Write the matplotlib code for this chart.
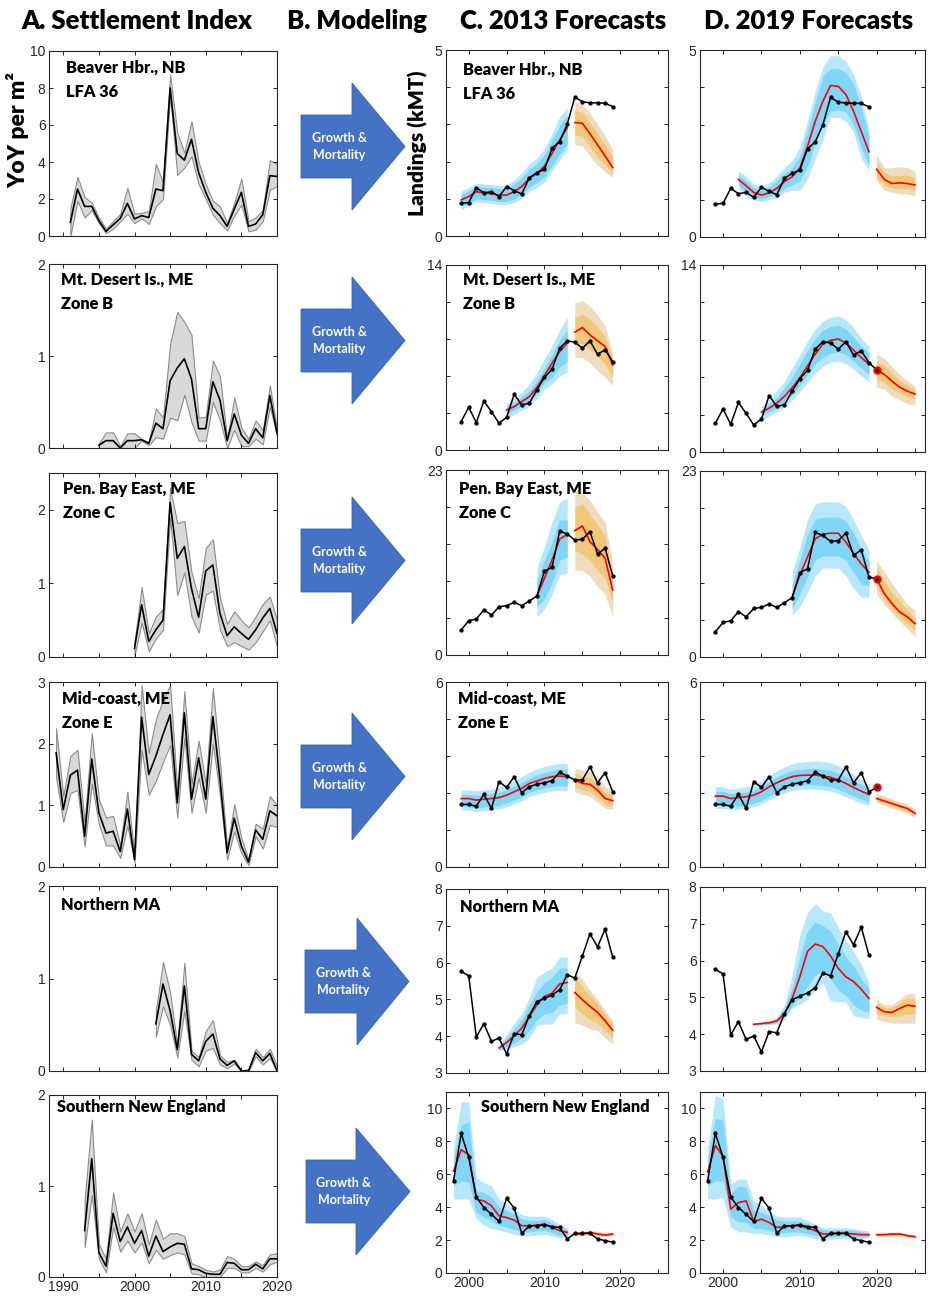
import matplotlib
matplotlib.use('Agg')
import matplotlib.pyplot as plt
import numpy as np
from matplotlib.patches import Polygon

plt.rcParams['font.family'] = ['Liberation Sans', 'DejaVu Sans']

#%% settlement index (column A): start year, mean, lower, upper
sett_bh_yr0 = 1991
sett_bh = [0.74, 2.54, 1.6, 1.6, 0.83, 0.25, 0.6, 0.95, 1.76, 0.92, 1.1, 1.0, 2.54, 2.45, 8.0,
           4.46, 4.1, 5.23, 3.43, 2.36, 1.5, 1.1, 0.52, 1.46, 2.36, 0.52, 0.65, 1.15, 3.26, 3.22]
sett_bh_hi = [1.5, 3.2, 2.1, 1.8, 1.0, 0.4, 0.8, 1.2, 2.6, 1.2, 1.25, 1.35, 3.9, 2.9, 8.7,
              5.6, 4.5, 6.2, 4.0, 2.8, 1.9, 1.6, 0.7, 1.8, 3.1, 0.8, 1.0, 1.4, 4.1, 3.9]
sett_bh_lo = [0.0, 1.9, 1.0, 1.4, 0.7, 0.15, 0.4, 0.8, 1.2, 0.7, 0.95, 0.65, 1.6, 2.0, 7.6,
              3.3, 3.7, 4.3, 2.8, 2.0, 1.15, 0.7, 0.3, 1.1, 1.7, 0.25, 0.35, 0.8, 2.5, 2.7]

sett_mdi_yr0 = 1995
sett_mdi = [0.03, 0.08, 0.08, 0.0, 0.08, 0.08, 0.09, 0.05, 0.27, 0.21, 0.73, 0.87, 0.97,
            0.75, 0.21, 0.21, 0.72, 0.52, 0.08, 0.37, 0.14, 0.05, 0.21, 0.11, 0.57, 0.16]
sett_mdi_hi = [0.05, 0.17, 0.17, 0.02, 0.16, 0.16, 0.1, 0.06, 0.43, 0.33, 1.13, 1.48, 1.37,
               1.23, 0.33, 0.34, 0.95, 0.78, 0.1, 0.55, 0.22, 0.1, 0.3, 0.19, 0.68, 0.2]
sett_mdi_lo = [0.0, 0.0, 0.0, 0.0, 0.0, 0.0, 0.08, 0.03, 0.12, 0.1, 0.33, 0.3, 0.58,
               0.28, 0.08, 0.08, 0.5, 0.3, 0.0, 0.2, 0.02, 0.02, 0.1, 0.04, 0.45, 0.13]

sett_pbe_yr0 = 2000
sett_pbe = [0.12, 0.71, 0.21, 0.37, 0.5, 2.1, 1.34, 1.5, 0.93, 0.54, 1.17, 1.25, 0.59, 0.29,
            0.41, 0.32, 0.24, 0.37, 0.53, 0.66, 0.32]
sett_pbe_hi = [0.2, 0.95, 0.32, 0.55, 0.65, 2.3, 1.82, 1.85, 1.15, 0.8, 1.48, 1.6, 0.8, 0.45,
               0.62, 0.5, 0.4, 0.55, 0.72, 0.82, 0.5]
sett_pbe_lo = [0.02, 0.47, 0.08, 0.25, 0.37, 1.9, 0.84, 1.15, 0.55, 0.33, 0.85, 0.9, 0.37, 0.15,
               0.2, 0.15, 0.1, 0.2, 0.35, 0.5, 0.14]

sett_mc_yr0 = 1989
sett_mc = [1.85, 0.93, 1.49, 1.57, 0.5, 1.75, 0.88, 0.55, 0.58, 0.25, 0.94, 0.12, 2.43, 1.5, 1.8, 2.15,
           2.47, 1.04, 2.5, 1.1, 1.77, 1.1, 2.44, 1.42, 0.23, 0.79, 0.34, 0.08, 0.6, 0.45, 0.91, 0.83]
sett_mc_hi = [2.25, 1.15, 1.8, 1.9, 0.72, 2.17, 1.1, 0.8, 0.83, 0.35, 1.22, 0.18, 2.95, 1.85, 2.4, 2.7,
              2.95, 1.25, 2.85, 1.35, 2.05, 1.35, 2.9, 1.7, 0.32, 1.02, 0.47, 0.12, 0.7, 0.62, 1.15, 1.0]
sett_mc_lo = [1.45, 0.73, 1.2, 1.25, 0.33, 1.35, 0.7, 0.35, 0.35, 0.15, 0.67, 0.08, 1.9, 1.17, 1.4, 1.7,
              1.98, 0.8, 2.1, 0.88, 1.45, 0.88, 2.0, 1.15, 0.12, 0.58, 0.22, 0.03, 0.5, 0.3, 0.68, 0.65]

sett_nma_yr0 = 2003
sett_nma = [0.51, 0.94, 0.65, 0.23, 0.92, 0.18, 0.11, 0.32, 0.4, 0.13, 0.06, 0.11, 0.0, 0.0,
            0.2, 0.11, 0.19, 0.0]
sett_nma_hi = [0.65, 1.18, 0.85, 0.28, 1.17, 0.22, 0.15, 0.43, 0.55, 0.17, 0.1, 0.12, 0.01, 0.02,
               0.24, 0.15, 0.24, 0.05]
sett_nma_lo = [0.37, 0.7, 0.5, 0.15, 0.65, 0.12, 0.05, 0.22, 0.25, 0.07, 0.03, 0.08, 0.0, 0.0,
               0.16, 0.07, 0.14, 0.0]

sett_sne_yr0 = 1993
sett_sne = [0.51, 1.3, 0.27, 0.12, 0.7, 0.39, 0.55, 0.37, 0.51, 0.23, 0.45, 0.28, 0.33, 0.37,
            0.36, 0.09, 0.08, 0.04, 0.03, 0.03, 0.16, 0.15, 0.08, 0.08, 0.14, 0.09, 0.2, 0.2]
sett_sne_hi = [0.85, 1.73, 0.36, 0.2, 0.93, 0.5, 0.7, 0.5, 0.7, 0.36, 0.63, 0.42, 0.48, 0.48,
               0.45, 0.15, 0.12, 0.08, 0.06, 0.08, 0.23, 0.2, 0.12, 0.12, 0.17, 0.13, 0.25, 0.26]
sett_sne_lo = [0.33, 0.9, 0.2, 0.05, 0.55, 0.28, 0.4, 0.27, 0.38, 0.15, 0.3, 0.2, 0.24, 0.27,
               0.25, 0.04, 0.03, 0.0, 0.0, 0.0, 0.1, 0.1, 0.05, 0.05, 0.1, 0.06, 0.14, 0.17]

#%% observed landings (kMT), 2020 value shown as red dot in D
obs_bh = [0.88, 0.9, 1.3, 1.16, 1.19, 1.06, 1.33, 1.22, 1.13, 1.57, 1.7, 1.79, 2.36, 2.54, 3.0,
          3.73, 3.61, 3.58, 3.58, 3.57, 3.48]
obs_mdi = [2.15, 3.23, 2.07, 3.71, 2.9, 2.02, 2.47, 4.22, 3.41, 3.54, 4.55, 5.5, 6.11, 7.7, 8.26,
           8.16, 7.7, 8.26, 7.25, 7.58, 6.69]
obs_pbe = [3.11, 4.27, 4.48, 5.6, 4.97, 6.0, 6.13, 6.55, 6.13, 6.71, 7.34, 10.44, 10.9, 15.4, 15.04,
           14.3, 14.38, 15.33, 12.56, 13.26, 9.86]
obs_mc = [2.03, 2.03, 1.97, 2.36, 1.9, 2.77, 2.58, 2.93, 2.41, 2.6, 2.69, 2.73, 2.8, 3.07, 2.95,
          2.82, 2.82, 3.25, 2.73, 3.06, 2.44]
obs_nma = [5.76, 5.64, 3.98, 4.34, 3.86, 3.95, 3.52, 4.07, 4.04, 4.56, 4.94, 5.03, 5.12, 5.26, 5.67,
           5.58, 6.18, 6.78, 6.43, 6.91, 6.15]
obs_sne = [5.62, 8.49, 7.03, 4.62, 3.98, 3.57, 3.13, 4.54, 3.94, 2.41, 2.87, 2.87, 2.93, 2.81, 2.77,
           2.07, 2.41, 2.41, 2.41, 2.07, 1.97, 1.87]
obs2020_mdi = 6.14
obs2020_pbe = 9.69
obs2020_mc = 2.58

#%% model fits / forecasts: rows = [median, outer lo, inner lo, inner hi, outer hi] per year
bh_fit13 = [[0.97, 0.72, 0.80, 1.12, 1.20], [1.06, 0.80, 0.88, 1.22, 1.30], [1.19, 0.92, 1.00, 1.33, 1.42],
            [1.16, 0.90, 0.98, 1.32, 1.40], [1.13, 0.88, 0.96, 1.30, 1.38], [1.10, 0.85, 0.93, 1.27, 1.36],
            [1.10, 0.84, 0.93, 1.28, 1.37], [1.19, 0.90, 1.00, 1.40, 1.50], [1.33, 1.00, 1.12, 1.56, 1.70],
            [1.55, 1.20, 1.32, 1.80, 1.95], [1.68, 1.30, 1.43, 1.95, 2.10], [1.88, 1.45, 1.60, 2.18, 2.35],
            [2.22, 1.75, 1.90, 2.57, 2.75], [2.58, 2.05, 2.20, 2.97, 3.20], [2.91, 2.30, 2.47, 3.25, 3.45]]
bh_fc13 = [[3.05, 2.45, 2.72, 3.38, 3.60], [3.03, 2.42, 2.68, 3.33, 3.55], [2.75, 2.15, 2.40, 3.05, 3.30],
           [2.45, 1.90, 2.12, 2.75, 3.00], [2.15, 1.72, 1.90, 2.45, 2.70], [1.84, 1.58, 1.68, 2.13, 2.31]]
bh_fit19 = [[1.54, 1.30, 1.40, 1.68, 1.78], [1.37, 1.10, 1.20, 1.50, 1.62], [1.19, 0.98, 1.05, 1.32, 1.42],
            [1.12, 0.95, 1.02, 1.25, 1.35], [1.18, 1.00, 1.08, 1.34, 1.45], [1.30, 1.05, 1.15, 1.50, 1.62],
            [1.48, 1.20, 1.30, 1.70, 1.85], [1.61, 1.25, 1.40, 1.85, 2.05], [1.84, 1.25, 1.50, 2.15, 2.40],
            [2.42, 1.55, 1.90, 2.85, 3.10], [3.09, 2.10, 2.50, 3.60, 3.90], [3.63, 2.60, 3.00, 4.30, 4.55],
            [4.05, 3.20, 3.36, 4.50, 4.85], [4.03, 3.20, 3.40, 4.50, 4.85], [3.81, 3.10, 3.35, 4.40, 4.70],
            [3.36, 2.80, 3.00, 4.10, 4.35], [2.82, 2.10, 2.40, 3.45, 3.75], [2.28, 1.79, 1.91, 2.69, 2.87]]
bh_fc19 = [[1.81, 1.50, 1.60, 2.00, 2.20], [1.54, 1.25, 1.37, 1.72, 1.85], [1.43, 1.20, 1.30, 1.63, 1.85],
           [1.45, 1.15, 1.30, 1.65, 1.88], [1.43, 1.15, 1.30, 1.65, 1.85], [1.39, 1.10, 1.25, 1.60, 1.75]]

mdi_fit13 = [[3.03, 2.40, 2.70, 3.30, 3.50], [3.28, 2.70, 3.00, 3.60, 3.90], [3.66, 3.00, 3.30, 4.00, 4.40],
             [4.04, 3.30, 3.65, 4.50, 5.00], [4.75, 3.90, 4.30, 5.30, 5.90], [5.63, 4.60, 5.10, 6.20, 6.90],
             [6.57, 5.00, 5.50, 7.20, 7.90], [7.45, 5.60, 6.30, 8.30, 9.10], [8.08, 5.90, 6.70, 9.10, 10.05]]
mdi_fc13 = [[8.92, 7.00, 8.00, 10.00, 11.16], [9.27, 7.00, 8.10, 10.30, 11.30], [8.71, 6.60, 7.60, 9.90, 10.90],
            [8.26, 6.00, 7.10, 9.30, 10.20], [7.83, 5.50, 6.50, 8.60, 9.40], [6.44, 4.90, 5.50, 6.90, 7.30]]
mdi_fit19 = [[2.98, 2.40, 2.70, 3.20, 3.40], [3.28, 2.70, 3.00, 3.60, 3.90], [3.66, 3.00, 3.30, 4.10, 4.60],
             [4.17, 3.40, 3.80, 4.80, 5.30], [4.80, 3.90, 4.30, 5.60, 6.30], [5.56, 4.50, 5.00, 6.60, 7.30],
             [6.44, 5.20, 5.80, 7.60, 8.30], [7.32, 5.90, 6.60, 8.50, 9.20], [8.08, 6.40, 7.10, 9.10, 9.80],
             [8.36, 6.70, 7.40, 9.40, 10.10], [8.46, 6.80, 7.50, 9.50, 10.20], [8.16, 6.60, 7.30, 9.20, 9.90],
             [7.63, 6.20, 6.80, 8.60, 9.30], [7.07, 5.70, 6.30, 7.90, 8.50], [6.57, 5.25, 5.80, 7.45, 7.90]]
mdi_fc19 = [[6.14, 4.87, 5.50, 6.80, 7.33], [5.81, 4.70, 5.20, 6.50, 7.00], [5.30, 4.20, 4.70, 5.90, 6.40],
            [4.85, 3.90, 4.40, 5.35, 5.80], [4.55, 3.60, 4.10, 5.00, 5.30], [4.34, 3.50, 3.95, 4.70, 4.95]]

pbe_fit13 = [[7.34, 4.77, 6.00, 9.30, 10.77], [9.53, 5.70, 7.00, 11.80, 13.50], [11.80, 7.50, 9.00, 14.00, 16.50],
             [14.40, 10.00, 11.80, 16.80, 19.00], [15.00, 10.15, 12.20, 16.80, 19.50]]
pbe_fc13 = [[15.46, 10.57, 13.05, 18.40, 20.50], [16.04, 10.50, 12.50, 18.80, 20.10],
            [14.09, 9.80, 11.80, 17.50, 19.20], [13.14, 8.50, 10.50, 16.20, 17.80],
            [12.02, 7.50, 9.50, 14.80, 16.50], [8.08, 4.77, 6.50, 10.00, 11.50]]
pbe_fit19 = [[7.42, 5.15, 6.00, 9.00, 10.50], [10.10, 6.20, 7.80, 12.00, 13.50], [12.37, 8.00, 10.00, 15.20, 17.00],
             [14.60, 10.00, 12.00, 17.00, 18.90], [15.20, 11.00, 12.50, 17.30, 19.20], [15.30, 11.00, 12.50, 17.30, 19.20],
             [15.30, 11.00, 12.50, 17.30, 19.20], [14.20, 10.00, 12.00, 16.80, 18.60], [12.80, 8.50, 10.50, 15.30, 17.00],
             [11.50, 7.40, 9.00, 13.30, 15.00], [10.50, 7.40, 8.80, 11.80, 13.30]]
pbe_fc19 = [[9.69, 7.80, 8.70, 11.00, 11.95], [7.83, 6.50, 7.10, 9.50, 10.50], [6.60, 5.40, 5.90, 8.00, 9.10],
            [5.56, 4.40, 4.90, 6.90, 7.80], [4.95, 3.50, 4.10, 5.80, 6.50], [4.12, 2.47, 3.30, 4.80, 5.77]]

mc_fit13 = [[2.22, 1.85, 1.96, 2.36, 2.50], [2.22, 1.84, 1.95, 2.35, 2.50], [2.17, 1.80, 1.92, 2.33, 2.47],
            [2.20, 1.82, 1.94, 2.36, 2.50], [2.22, 1.85, 1.97, 2.38, 2.53], [2.25, 1.88, 2.00, 2.42, 2.58],
            [2.33, 1.95, 2.08, 2.50, 2.68], [2.44, 2.05, 2.18, 2.62, 2.80], [2.55, 2.15, 2.28, 2.74, 2.93],
            [2.71, 2.28, 2.42, 2.88, 3.08], [2.79, 2.36, 2.50, 2.98, 3.18], [2.87, 2.42, 2.57, 3.06, 3.26],
            [2.93, 2.47, 2.62, 3.12, 3.32], [2.95, 2.48, 2.64, 3.17, 3.36], [2.93, 2.47, 2.63, 3.18, 3.36]]
mc_fc13 = [[2.82, 2.44, 2.60, 3.05, 3.20], [2.71, 2.35, 2.50, 2.95, 3.15], [2.68, 2.30, 2.45, 2.90, 3.10],
           [2.49, 2.10, 2.25, 2.70, 2.95], [2.22, 1.90, 2.02, 2.42, 2.60], [2.15, 1.88, 1.98, 2.35, 2.50]]
mc_fit19 = [[2.30, 1.90, 2.00, 2.45, 2.60], [2.30, 1.90, 2.00, 2.45, 2.60], [2.22, 1.85, 1.95, 2.38, 2.52],
            [2.25, 1.87, 1.98, 2.40, 2.55], [2.28, 1.90, 2.00, 2.44, 2.60], [2.33, 1.95, 2.06, 2.50, 2.67],
            [2.44, 2.05, 2.16, 2.62, 2.80], [2.60, 2.18, 2.30, 2.78, 2.97], [2.73, 2.30, 2.43, 2.92, 3.12],
            [2.84, 2.40, 2.53, 3.04, 3.25], [2.93, 2.48, 2.62, 3.13, 3.35], [2.97, 2.52, 2.66, 3.17, 3.40],
            [2.98, 2.53, 2.67, 3.19, 3.42], [2.98, 2.52, 2.66, 3.20, 3.44], [2.95, 2.50, 2.64, 3.17, 3.42],
            [2.91, 2.46, 2.60, 3.13, 3.38], [2.82, 2.38, 2.52, 3.04, 3.28], [2.71, 2.28, 2.42, 2.93, 3.16],
            [2.58, 2.18, 2.30, 2.80, 3.00], [2.46, 2.08, 2.20, 2.68, 2.85], [2.35, 2.00, 2.10, 2.55, 2.68]]
mc_fc19 = [[2.22, 2.08, 2.14, 2.30, 2.38], [2.14, 2.00, 2.06, 2.22, 2.30], [2.06, 1.91, 1.98, 2.14, 2.21],
           [1.97, 1.82, 1.89, 2.05, 2.12], [1.90, 1.74, 1.81, 1.98, 2.05], [1.74, 1.60, 1.66, 1.82, 1.88]]

nma_fit13 = [[3.68, 3.60, 3.64, 3.73, 3.78], [3.83, 3.65, 3.72, 3.95, 4.05], [4.01, 3.72, 3.82, 4.20, 4.35],
             [4.22, 3.78, 3.95, 4.45, 4.60], [4.54, 3.95, 4.15, 4.85, 5.05], [4.85, 4.30, 4.45, 5.20, 5.60],
             [5.08, 4.33, 4.60, 5.45, 5.75], [5.17, 4.33, 4.65, 5.60, 5.85], [5.42, 4.60, 4.85, 5.85, 6.15],
             [5.46, 4.62, 4.90, 5.85, 6.15]]
nma_fc13 = [[5.19, 4.37, 4.80, 5.60, 5.75], [4.99, 4.30, 4.60, 5.35, 5.55], [4.81, 4.20, 4.45, 5.10, 5.25],
            [4.65, 4.15, 4.35, 4.90, 5.00], [4.42, 3.95, 4.15, 4.60, 4.70], [4.16, 3.80, 3.98, 4.30, 4.42]]
nma_fit19 = [[4.27, 4.24, 4.25, 4.29, 4.30], [4.29, 4.25, 4.27, 4.32, 4.34], [4.31, 4.26, 4.28, 4.35, 4.38],
             [4.36, 4.28, 4.32, 4.42, 4.47], [4.56, 4.40, 4.47, 4.70, 4.80], [4.97, 4.70, 4.78, 5.25, 5.60],
             [5.56, 4.82, 5.00, 6.10, 6.70], [6.25, 4.95, 5.30, 6.80, 7.30], [6.45, 5.20, 5.60, 7.05, 7.55],
             [6.38, 5.40, 5.75, 6.95, 7.35], [6.13, 4.90, 5.50, 6.80, 7.30], [5.79, 4.88, 5.20, 6.45, 6.90],
             [5.56, 4.88, 5.05, 6.10, 6.55], [5.43, 4.50, 4.80, 5.85, 6.25], [5.22, 4.45, 4.65, 5.50, 5.90],
             [4.97, 4.43, 4.60, 5.25, 5.40]]
nma_fc19 = [[4.73, 4.40, 4.55, 4.85, 4.95], [4.61, 4.35, 4.50, 4.72, 4.80], [4.59, 4.30, 4.48, 4.72, 4.80],
            [4.70, 4.30, 4.50, 4.85, 4.95], [4.79, 4.30, 4.55, 4.98, 5.10], [4.76, 4.30, 4.55, 4.95, 5.10]]

sne_fit13 = [[6.18, 4.50, 5.30, 7.00, 7.60], [7.49, 4.50, 5.60, 9.00, 10.40], [7.19, 4.50, 5.50, 9.20, 10.40],
             [4.48, 3.30, 3.70, 5.00, 5.80], [4.38, 2.90, 3.40, 4.90, 5.50], [4.08, 2.70, 3.20, 4.60, 5.30],
             [3.47, 2.60, 2.90, 4.00, 4.50], [3.37, 2.50, 2.80, 3.80, 4.20], [3.21, 2.35, 2.65, 3.60, 3.90],
             [2.87, 2.25, 2.50, 3.30, 3.55], [2.87, 2.25, 2.50, 3.20, 3.45], [2.91, 2.30, 2.55, 3.20, 3.45],
             [2.97, 2.35, 2.60, 3.25, 3.45], [2.77, 2.25, 2.45, 3.05, 3.25], [2.57, 2.15, 2.30, 2.80, 2.95],
             [2.47, 2.20, 2.30, 2.65, 2.75]]
sne_fc13 = [[2.37, 2.22, 2.30, 2.44, 2.50], [2.37, 2.25, 2.31, 2.45, 2.52], [2.47, 2.32, 2.40, 2.55, 2.62],
            [2.37, 2.25, 2.31, 2.45, 2.52], [2.31, 2.20, 2.26, 2.38, 2.45], [2.37, 2.25, 2.30, 2.43, 2.50]]
sne_fit19 = [[6.14, 4.50, 5.30, 7.00, 7.60], [7.75, 4.50, 5.60, 9.40, 10.80], [7.09, 4.60, 5.60, 9.30, 10.60],
             [3.88, 2.80, 3.40, 4.80, 5.40], [4.28, 2.50, 3.10, 5.30, 5.70], [4.38, 2.50, 3.10, 5.20, 5.70],
             [3.13, 2.40, 2.70, 3.80, 4.40], [3.27, 2.40, 2.70, 3.70, 4.10], [3.07, 2.30, 2.60, 3.50, 3.80],
             [2.77, 2.20, 2.45, 3.20, 3.45], [2.81, 2.20, 2.45, 3.15, 3.40], [2.87, 2.25, 2.50, 3.15, 3.40],
             [2.87, 2.30, 2.50, 3.15, 3.40], [2.73, 2.20, 2.40, 3.00, 3.20], [2.57, 2.10, 2.30, 2.80, 2.95],
             [2.37, 2.05, 2.20, 2.60, 2.75], [2.37, 2.05, 2.20, 2.60, 2.75], [2.41, 2.10, 2.25, 2.62, 2.75],
             [2.41, 2.10, 2.25, 2.62, 2.75], [2.37, 2.10, 2.22, 2.58, 2.70], [2.33, 2.10, 2.20, 2.50, 2.60],
             [2.33, 2.15, 2.22, 2.45, 2.55]]
sne_fc19 = [[2.33, 2.22, 2.28, 2.40, 2.44], [2.33, 2.22, 2.28, 2.40, 2.45], [2.37, 2.25, 2.31, 2.44, 2.50],
            [2.37, 2.25, 2.31, 2.44, 2.50], [2.27, 2.17, 2.22, 2.33, 2.38], [2.21, 2.12, 2.16, 2.27, 2.32]]

#%% table for the loop
labels = ['Beaver Hbr., NB\nLFA 36', 'Mt. Desert Is., ME\nZone B', 'Pen. Bay East, ME\nZone C',
          'Mid-coast, ME\nZone E', 'Northern MA', 'Southern New England']
sett = [(sett_bh_yr0, sett_bh, sett_bh_lo, sett_bh_hi), (sett_mdi_yr0, sett_mdi, sett_mdi_lo, sett_mdi_hi),
        (sett_pbe_yr0, sett_pbe, sett_pbe_lo, sett_pbe_hi), (sett_mc_yr0, sett_mc, sett_mc_lo, sett_mc_hi),
        (sett_nma_yr0, sett_nma, sett_nma_lo, sett_nma_hi), (sett_sne_yr0, sett_sne, sett_sne_lo, sett_sne_hi)]
sett_ylim = [10, 2, 2.5, 3, 2, 2]
sett_yticks = [[0, 2, 4, 6, 8, 10], [0, 1, 2], [0, 1, 2], [0, 1, 2, 3], [0, 1, 2], [0, 1, 2]]
obs = [(1999, obs_bh, None), (1999, obs_mdi, obs2020_mdi), (1999, obs_pbe, obs2020_pbe),
       (1999, obs_mc, obs2020_mc), (1999, obs_nma, None), (1998, obs_sne, None)]
fits13 = [(1999, bh_fit13), (2005, mdi_fit13), (2009, pbe_fit13), (1999, mc_fit13), (2004, nma_fit13), (1998, sne_fit13)]
fcs13 = [bh_fc13, mdi_fc13, pbe_fc13, mc_fc13, nma_fc13, sne_fc13]
fits19 = [(2002, bh_fit19), (2005, mdi_fit19), (2009, pbe_fit19), (1999, mc_fit19), (2004, nma_fit19), (1998, sne_fit19)]
fcs19 = [bh_fc19, mdi_fc19, pbe_fc19, mc_fc19, nma_fc19, sne_fc19]
land_ylim = [(0, 5), (0, 14), (0, 23), (0, 6), (3, 8), (0, 11)]

#%% layout in pixels (top, bottom) per row
W, H = 930, 1297
rowsA = [(51, 236), (264, 448), (473, 657), (682, 867), (886, 1071), (1095, 1277)]
rowsC = [(50, 236), (265, 450), (470, 655), (682, 867), (889, 1073), (1092, 1273)]
rowsD = [(50, 237), (265, 452), (471, 657), (682, 867), (887, 1071), (1092, 1273)]
lab_posA = [(66, 60), (61, 272), (63, 481), (62, 691), (61, 897), (57, 1099)]
lab_posC = [(463, 62), (463, 272), (459, 481), (458, 691), (460, 899), (481, 1099)]
arrows = [(301, 352, 405, 146.5), (301, 352, 405, 340.5), (301, 352, 405, 560.5),
          (301, 352, 405, 776.5), (305, 357, 409, 981.5), (306, 356, 410, 1191.5)]

fig = plt.figure(figsize=(9.3, 12.97), dpi=100)

def ax_at(l, t, r, b):
    return fig.add_axes([l / W, 1 - b / H, (r - l) / W, (b - t) / H])

def style(ax):
    ax.tick_params(direction='in', top=True, right=True, length=3, width=0.6,
                   labelsize=10, labelcolor='#262626', pad=2.5)
    for s in ax.spines.values():
        s.set_linewidth(0.8)
        s.set_color('#262626')

def band(ax, yr0, rows, c_out, c_in):
    rows = np.array(rows)
    yrs = np.arange(yr0, yr0 + len(rows))
    ax.fill_between(yrs, rows[:, 1], rows[:, 4], color=c_out, lw=0)
    ax.fill_between(yrs, rows[:, 2], rows[:, 3], color=c_in, lw=0)
    return yrs, rows[:, 0]

blue_out, blue_in = '#b6e7fb', '#7fd6f6'
tan_out, tan_in = '#efdcbf', '#f0c878'
lab_font = dict(family=['Lato', 'DejaVu Sans'], fontweight='heavy', fontsize=11.8, va='top',
                linespacing=1.65)

for i in range(6):
    # ---- A. settlement
    ax = ax_at(49, rowsA[i][0], 277, rowsA[i][1])
    yr0, m, lo, hi = sett[i]
    yrs = np.arange(yr0, yr0 + len(m))
    ax.fill_between(yrs, lo, hi, facecolor='#d9d9d9', edgecolor='#8c8c8c', lw=0.8)
    ax.plot(yrs, m, color='k', lw=1.2)
    ax.set_xlim(1988, 2020)
    ax.set_ylim(0, sett_ylim[i])
    ax.set_yticks(sett_yticks[i])
    ax.set_xticks(np.arange(1990, 2021, 5))
    if i == 5:
        ax.set_xticklabels(['1990', '', '2000', '', '2010', '', '2020'])
    else:
        ax.set_xticklabels([])
    style(ax)
    fig.text(lab_posA[i][0] / W, 1 - lab_posA[i][1] / H, labels[i], **lab_font)

    # ---- C and D. forecasts
    for col, rows, fits, fcs, fc0, l, r in [('C', rowsC, fits13, fcs13, 2014, 446, 668),
                                           ('D', rowsD, fits19, fcs19, 2020, 700, 925)]:
        ax = ax_at(l, rows[i][0], r, rows[i][1])
        fy, fr = band(ax, fits[i][0], fits[i][1], blue_out, blue_in)
        cy, cr = band(ax, fc0, fcs[i], tan_out, tan_in)
        ax.plot(fy, fr, color='#ff0000', lw=1.2)
        ax.plot(cy, cr, color='#ff0000', lw=1.2)
        o0, ov, o20 = obs[i]
        oy = np.arange(o0, o0 + len(ov))
        if col == 'D' and o20 is not None:
            ax.plot([oy[-1], 2020], [ov[-1], o20], color='k', lw=1.1)
            ax.plot(2020, o20, 'o', color='#ff0000', ms=5, mec='#ff0000')
            ax.plot(2020, o20, 'o', color='k', ms=1.5)
        ax.plot(oy, ov, '-o', color='k', lw=1.1, ms=2.1)
        ax.set_xlim(1997, 2026.3)
        y0, y1 = land_ylim[i]
        ax.set_ylim(y0, y1)
        ax.set_xticks(np.arange(2000, 2026, 5))
        if i == 5:
            ax.set_xticklabels(['2000', '', '2010', '', '2020', ''])
        else:
            ax.set_xticklabels([])
        if i == 4:
            ax.set_yticks(np.arange(3, 9))
        elif i == 5:
            ax.set_yticks(np.arange(0, 11, 2))
        else:
            tk = np.linspace(y0, y1, 6)
            ax.set_yticks(tk)
            ax.set_yticklabels(['0', '', '', '', '', '%g' % y1])
        style(ax)
        if col == 'C':
            fig.text(lab_posC[i][0] / W, 1 - lab_posC[i][1] / H, labels[i], **lab_font)

    # ---- B. arrow
    x0, x1, tip, yc = arrows[i]
    pts = [(x0, yc - 31.5), (x1, yc - 31.5), (x1, yc - 63.5), (tip, yc),
           (x1, yc + 63.5), (x1, yc + 31.5), (x0, yc + 31.5)]
    pts = [(x / W, 1 - y / H) for x, y in pts]
    fig.patches.append(Polygon(pts, closed=True, transform=fig.transFigure,
                               facecolor='#4472c4', edgecolor='#3a62ad', lw=0.6))
    fig.text((x0 + 38) / W, 1 - yc / H, 'Growth &\nMortality', color='white', ha='center',
             va='center', fontsize=9, fontweight='bold', linespacing=1.55,
             family=['Lato', 'DejaVu Sans'])

#%% headers and axis labels
hdr = dict(family=['Lato', 'DejaVu Sans'], fontweight='heavy', fontsize=18.5, va='center', ha='center')
fig.text(137 / W, 1 - 21 / H, 'A. Settlement Index', **hdr)
fig.text(357 / W, 1 - 21 / H, 'B. Modeling', **hdr)
fig.text(563 / W, 1 - 21 / H, 'C. 2013 Forecasts', **hdr)
fig.text(809 / W, 1 - 21 / H, 'D. 2019 Forecasts', **hdr)
fig.text(18 / W, 1 - 130 / H, 'YoY per m²', rotation=90, ha='center', va='center',
         fontsize=16.5, fontweight='heavy', family=['Lato', 'DejaVu Sans'])
fig.text(418 / W, 1 - 143 / H, 'Landings (kMT)', rotation=90, ha='center', va='center',
         fontsize=15, fontweight='heavy', family=['Lato', 'DejaVu Sans'])

plt.savefig('out.png', dpi=100)
